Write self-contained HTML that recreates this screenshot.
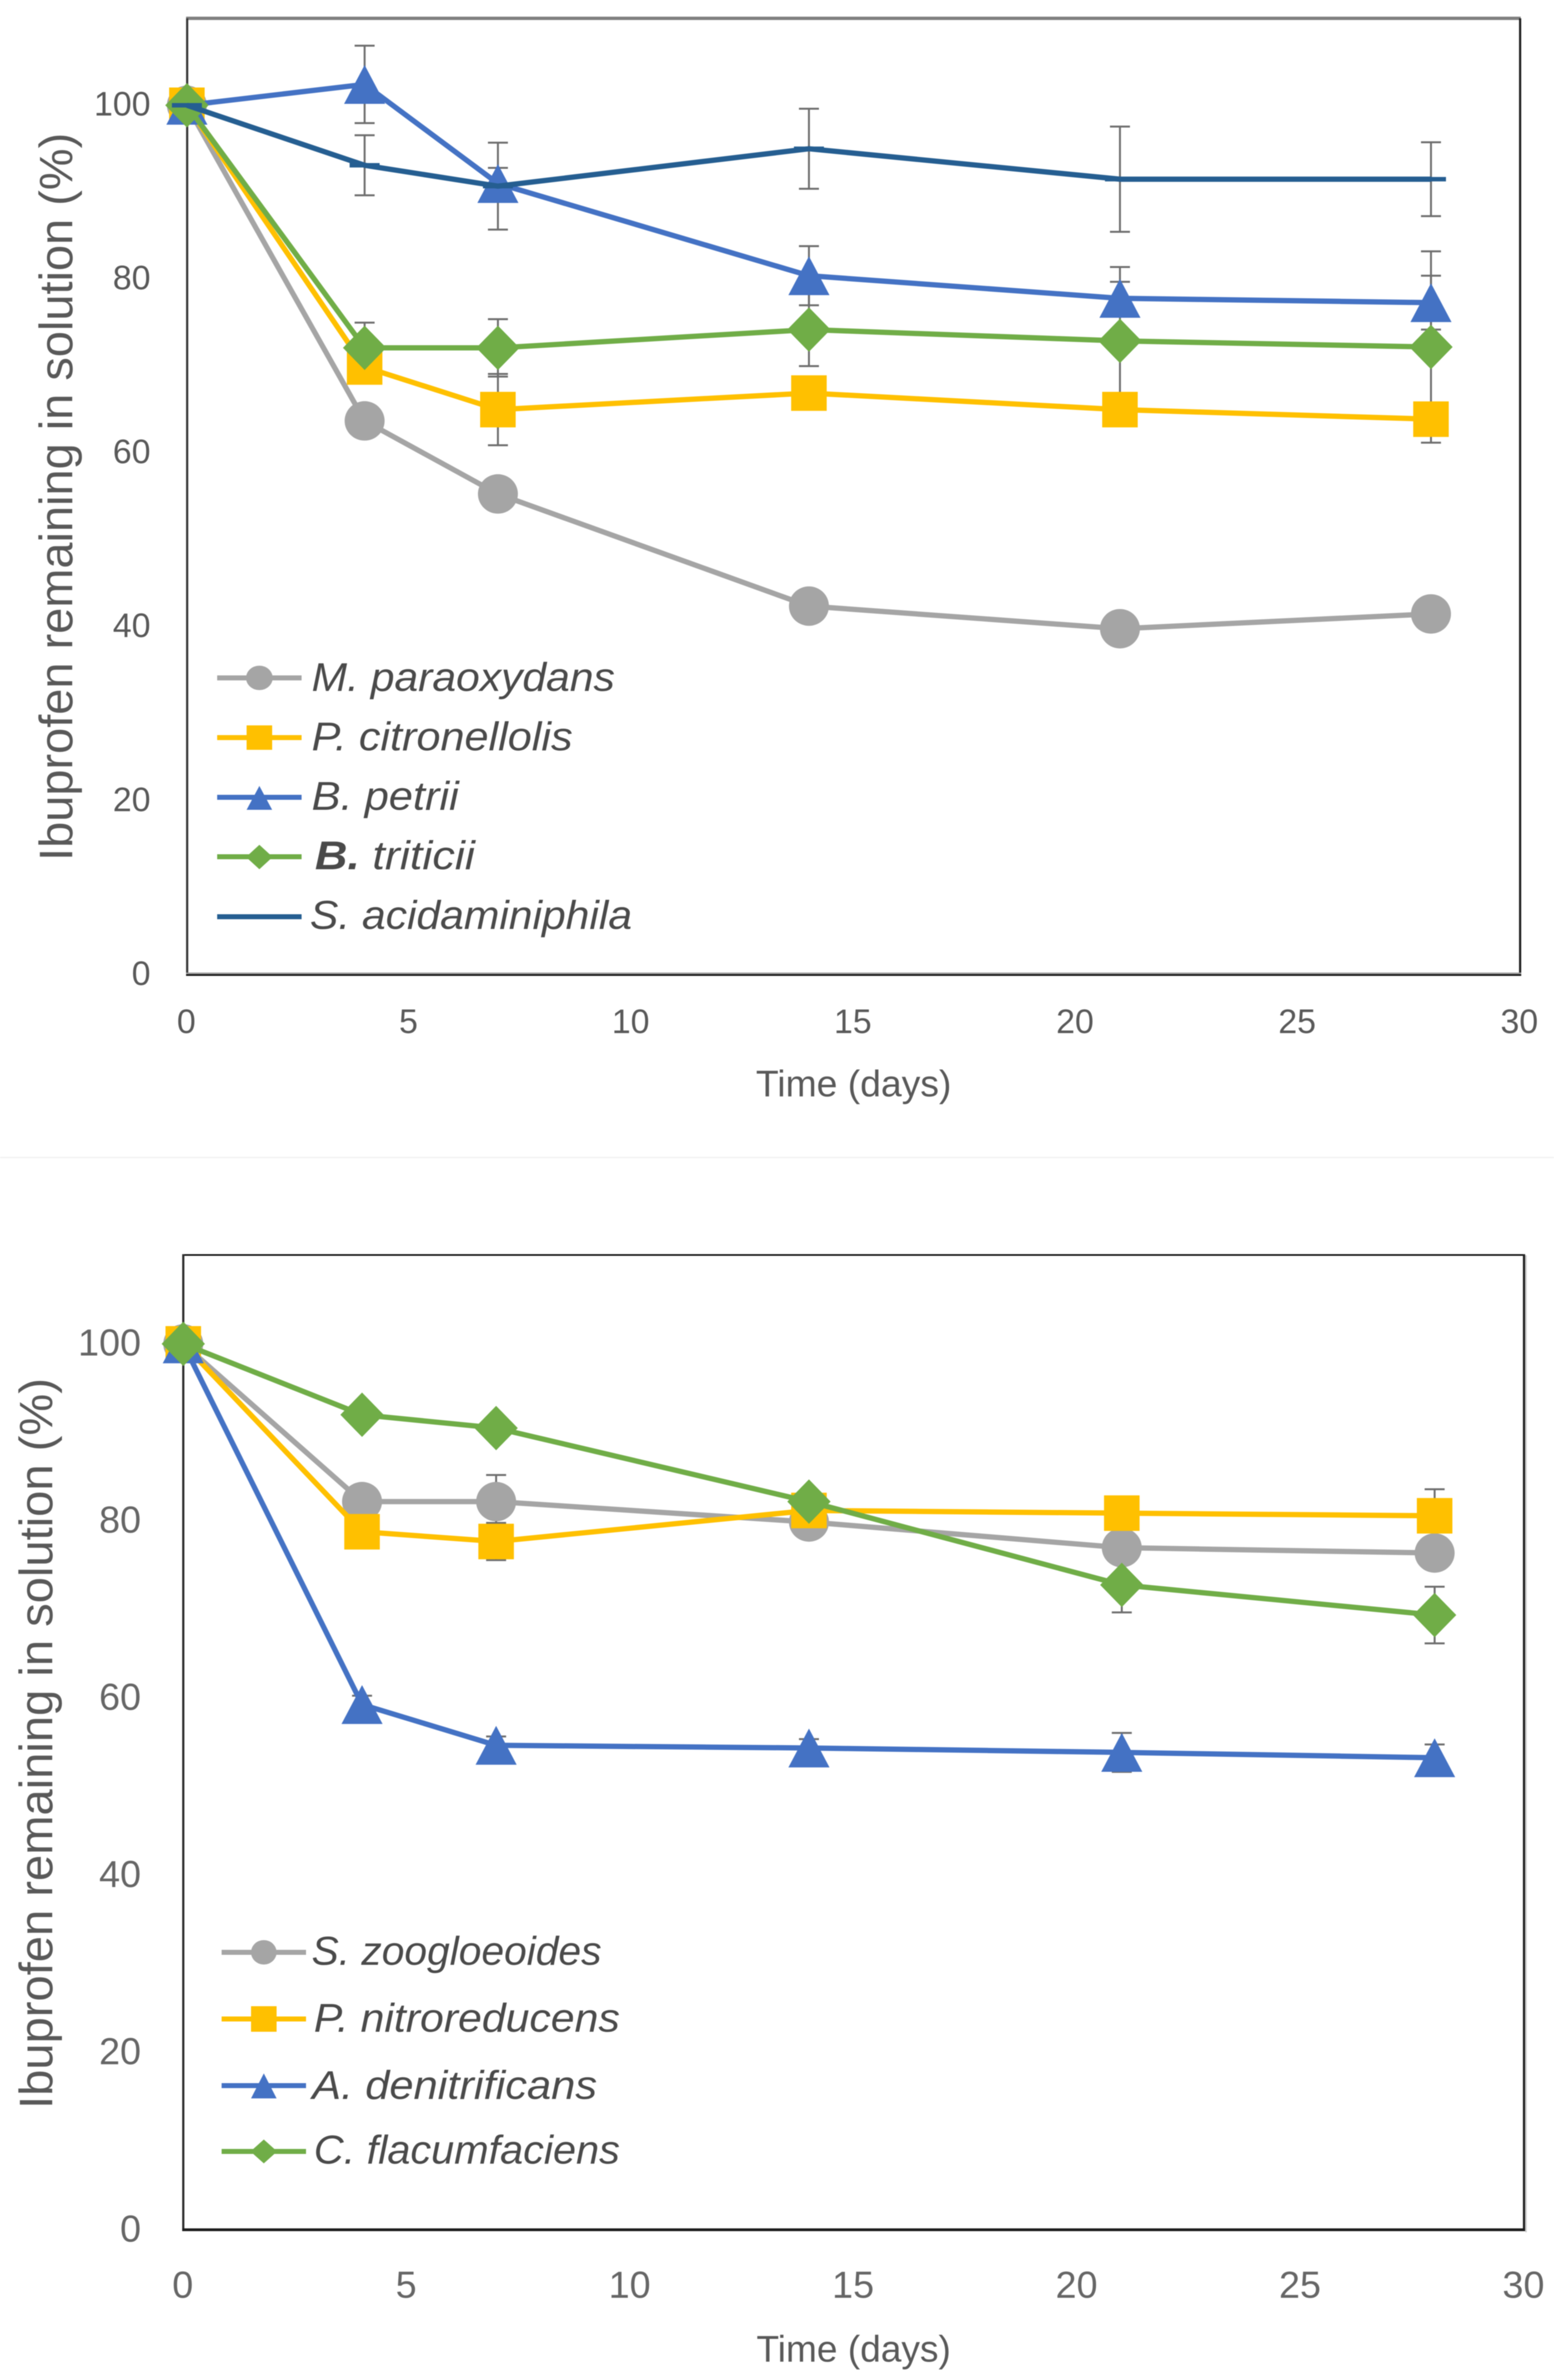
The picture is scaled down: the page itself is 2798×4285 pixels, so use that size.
<!DOCTYPE html>
<html lang="en">
<head>
<meta charset="utf-8">
<title>Ibuprofen remaining in solution over time</title>
<style>
  html, body { margin: 0; padding: 0; background: #ffffff; }
  svg { display: block; font-family: "Liberation Sans", sans-serif; filter: blur(0.8px); }
  .title { fill: #595959; }
  .legend-text { fill: #4a4a4a; font-style: italic; font-size: 72px; }
</style>
</head>
<body>
<svg id="figure" xmlns="http://www.w3.org/2000/svg" width="2798" height="4285" viewBox="0 0 2798 4285">
  <rect x="0" y="0" width="2798" height="4285" fill="#ffffff"/>
  <rect x="0" y="2083" width="2798" height="2" fill="#f0f0f0"/>

  <g id="chart-top">
    <g>
      <rect x="335" y="30" width="2403" height="6" fill="#808080"/>
      <rect x="335" y="33" width="4" height="1724" fill="#3a3a3a"/>
      <rect x="2735" y="33" width="4" height="1724" fill="#222222"/>
      <rect x="335" y="1751" width="2404" height="3" fill="#999999"/>
      <rect x="335" y="1754" width="2404" height="3" fill="#111111"/>
    </g>
    <text class="title" font-size="84" transform="translate(130 1550) rotate(-90)" textLength="1311" lengthAdjust="spacingAndGlyphs">Ibuprofen remaining in solution (%)</text>
    <text class="title" font-size="67" x="1361" y="1974" textLength="352" lengthAdjust="spacingAndGlyphs">Time (days)</text>
    <g>
      <g>
        <rect x="391" y="1216" width="152" height="9" fill="#a5a5a5"/>
        <ellipse cx="467" cy="1220.5" rx="24" ry="22" fill="#a5a5a5"/>
        <text class="legend-text" x="561" y="1244" textLength="546" lengthAdjust="spacingAndGlyphs">M. paraoxydans</text>
      </g>
      <g>
        <rect x="391" y="1323.5" width="152" height="9" fill="#ffc000"/>
        <rect x="444" y="1306" width="46" height="44" fill="#ffc000"/>
        <text class="legend-text" x="561" y="1351" textLength="470" lengthAdjust="spacingAndGlyphs">P. citronellolis</text>
      </g>
      <g>
        <rect x="391" y="1431" width="152" height="9" fill="#4472c4"/>
        <polygon points="467,1415 490,1458 444,1458" fill="#4472c4"/>
        <text class="legend-text" x="561" y="1458" textLength="265" lengthAdjust="spacingAndGlyphs">B. petrii</text>
      </g>
      <g>
        <rect x="391" y="1538" width="152" height="9" fill="#70ad47"/>
        <polygon points="467,1521 491,1543 467,1565 443,1543" fill="#70ad47"/>
        <text class="legend-text" x="567" y="1565" textLength="288" lengthAdjust="spacingAndGlyphs"><tspan font-weight="bold">B.</tspan> triticii</text>
      </g>
      <g>
        <rect x="391" y="1646" width="152" height="9" fill="#255e91"/>
        <text class="legend-text" x="558" y="1672.5" textLength="580" lengthAdjust="spacingAndGlyphs">S. acidaminiphila</text>
      </g>
    </g>
  </g>

  <g id="chart-bottom">
    <g>
      <rect x="329" y="2258" width="2417" height="3" fill="#111111"/>
      <rect x="328" y="2258" width="4" height="1759" fill="#2e2e2e"/>
      <rect x="2742" y="2258" width="4" height="1759" fill="#222222"/>
      <rect x="2746" y="2260" width="3" height="1759" fill="#cfcfcf"/>
      <rect x="328" y="4012" width="2418" height="5" fill="#1c1c1c"/>
    </g>
    <text class="title" font-size="84" transform="translate(94 3797) rotate(-90)" textLength="1316" lengthAdjust="spacingAndGlyphs">Ibuprofen remaining in solution (%)</text>
    <text class="title" font-size="67" x="1362" y="4252" textLength="350" lengthAdjust="spacingAndGlyphs">Time (days)</text>
    <g>
      <g>
        <rect x="399" y="3510.5" width="152" height="9" fill="#a5a5a5"/>
        <ellipse cx="475" cy="3515" rx="23" ry="22" fill="#a5a5a5"/>
        <text class="legend-text" x="561" y="3537.5" textLength="522" lengthAdjust="spacingAndGlyphs">S. zoogloeoides</text>
      </g>
      <g>
        <rect x="399" y="3630.5" width="152" height="9" fill="#ffc000"/>
        <rect x="452" y="3612" width="46" height="46" fill="#ffc000"/>
        <text class="legend-text" x="565" y="3658" textLength="551" lengthAdjust="spacingAndGlyphs">P. nitroreducens</text>
      </g>
      <g>
        <rect x="399" y="3750.5" width="152" height="9" fill="#4472c4"/>
        <polygon points="475,3733 498,3778 452,3778" fill="#4472c4"/>
        <text class="legend-text" x="562" y="3779" textLength="513" lengthAdjust="spacingAndGlyphs">A. denitrificans</text>
      </g>
      <g>
        <rect x="399" y="3869" width="152" height="9" fill="#70ad47"/>
        <polygon points="475,3852 499,3873.5 475,3895 451,3873.5" fill="#70ad47"/>
        <text class="legend-text" x="565" y="3895.5" textLength="551" lengthAdjust="spacingAndGlyphs">C. flacumfaciens</text>
      </g>
    </g>
  </g>
</svg>

<script>
// ---------- shared data ----------
const days = [0, 4, 7, 14, 21, 28];
const xTickLabels = [0, 5, 10, 15, 20, 25, 30];
const yTickLabels = [0, 20, 40, 60, 80, 100];

// ---------- top chart values ----------
const topGrayValues   = [100, 63.7, 55.3, 42.4, 39.8, 41.5];
const topOrangeValues = [100, 69.9, 65.0, 66.9, 65.0, 63.9];
const topBlueValues   = [100, 102.4, 91.0, 80.4, 77.8, 77.3];
const topGreenValues  = [100, 72.1, 72.1, 74.2, 72.9, 72.2];
const topDarkValues   = [100, 93.1, 90.7, 95.0, 91.5, 91.5];

const topGrayErrors   = [0, 1, 1, 1, 1, 1.5];
const topOrangeErrors = [0, 1.5, 4.1, 1.5, 1.5, 1.5];
const topBlueErrors   = [0, 4.45, 1.8, 3.4, 1.9, 3.1];
const topGreenErrors  = [0, 2.9, 3.3, 4.2, 8.5, 11];
const topDarkErrors   = [0, 3.45, 5.0, 4.6, 6.05, 4.25];

// ---------- bottom chart values ----------
const bottomGrayValues   = [100, 82.2, 82.2, 79.9, 77.0, 76.4];
const bottomOrangeValues = [100, 78.8, 77.7, 81.2, 80.9, 80.6];
const bottomBlueValues   = [100, 59.3, 54.7, 54.4, 53.9, 53.3];
const bottomGreenValues  = [100, 92.0, 90.5, 82.2, 72.8, 69.4];

const bottomGrayErrors   = [0, 1, 3.0, 1, 1, 1];
const bottomOrangeErrors = [0, 1, 2.1, 1, 1, 3.0];
const bottomBlueErrors   = [0, 1, 1, 1, 2.2, 1.5];
const bottomGreenErrors  = [0, 1, 1, 1, 3.1, 3.2];

// ---------- drawing ----------
const SVG_NS = 'http://www.w3.org/2000/svg';
const COLORS = { gray: '#a5a5a5', orange: '#ffc000', blue: '#4472c4', green: '#70ad47', dark: '#255e91' };

function make(tag, attrs, parent) {
  const node = document.createElementNS(SVG_NS, tag);
  for (const key in attrs) node.setAttribute(key, attrs[key]);
  parent.appendChild(node);
  return node;
}

function drawMarker(kind, px, py, color, parent) {
  let m = null;
  if (kind === 'circle') {
    m = make('ellipse', { cx: px, cy: py, rx: 36, ry: 35.5, fill: color }, parent);
  } else if (kind === 'square') {
    m = make('rect', { x: px - 32, y: py - 32, width: 64, height: 64, fill: color }, parent);
  } else if (kind === 'triangle') {
    m = make('polygon', { points: (px) + ',' + (py - 35) + ' ' + (px + 37) + ',' + (py + 35) + ' ' + (px - 37) + ',' + (py + 35), fill: color }, parent);
  } else if (kind === 'diamond') {
    m = make('polygon', { points: (px) + ',' + (py - 40) + ' ' + (px + 39) + ',' + (py) + ' ' + (px) + ',' + (py + 40) + ' ' + (px - 39) + ',' + (py), fill: color }, parent);
  } else {
    m = make('rect', { x: px - 27, y: py - 4, width: 54, height: 8, fill: color }, parent);
  }
  
  
}

function drawChart(rootId, geo, seriesList) {
  const root = document.getElementById(rootId);
  const xOf = function (d) { return geo.left + (d - 0) * (geo.right - geo.left) / 30; };
  const yOf = function (v) { return geo.bottom - v * (geo.bottom - geo.top) / 110; };

  // tick labels
  xTickLabels.forEach(function (t) {
    const label = make('text', { x: xOf(t) - 1, y: geo.xLabelY, 'font-size': geo.tickSize, 'text-anchor': 'middle', fill: geo.tickColor }, root);
    
    
    label.textContent = t;
  });
  yTickLabels.forEach(function (t) {
    const label = make('text', { x: geo.yLabelX, y: yOf(t) - 3 + geo.tickSize * 0.35, 'font-size': geo.tickSize, 'text-anchor': 'end', fill: geo.tickColor }, root);
    
    
    label.textContent = t;
  });

  // error bars sit beneath every line and marker
  const errorLayer = make('g', {}, root);
  
  
  seriesList.forEach(function (s) {
    days.forEach(function (d, i) {
      const err = s.errors[i];
      if (!err) return;
      const px = xOf(d);
      const hi = yOf(s.values[i] + err);
      const lo = yOf(s.values[i] - err);
      const bar = make('path', {
        d: 'M' + px + ' ' + hi + 'V' + lo + 'M' + (px - 18) + ' ' + hi + 'H' + (px + 18) + 'M' + (px - 18) + ' ' + lo + 'H' + (px + 18),
        stroke: '#6e6e6e', 'stroke-width': 3.5, fill: 'none'
      }, errorLayer);
      
      
    });
  });

  // series lines and markers
  seriesList.forEach(function (s) {
    const group = make('g', {}, root);
    
    
    const pts = days.map(function (d, i) { return xOf(d) + ',' + yOf(s.values[i]); }).join(' ');
    const line = make('polyline', { points: pts, fill: 'none', stroke: s.color, 'stroke-width': 9.5, 'stroke-linejoin': 'round' }, group);
    
    
    days.forEach(function (d, i) {
      drawMarker(s.marker, xOf(d), yOf(s.values[i]), s.color, group);
    });
  });
}

drawChart('chart-top',
  { left: 336.5, right: 2736.5, top: 33, bottom: 1755, xLabelY: 1860, yLabelX: 271, tickSize: 61, tickColor: '#595959' },
  [
    { name: 'series-m-paraoxydans',   color: COLORS.gray,   marker: 'circle',   values: topGrayValues,   errors: topGrayErrors },
    { name: 'series-p-citronellolis', color: COLORS.orange, marker: 'square',   values: topOrangeValues, errors: topOrangeErrors },
    { name: 'series-b-petrii',        color: COLORS.blue,   marker: 'triangle', values: topBlueValues,   errors: topBlueErrors },
    { name: 'series-b-triticii',      color: COLORS.green,  marker: 'diamond',  values: topGreenValues,  errors: topGreenErrors },
    { name: 'series-s-acidaminiphila',color: COLORS.dark,   marker: 'dash',     values: topDarkValues,   errors: topDarkErrors }
  ]);

drawChart('chart-bottom',
  { left: 330, right: 2744, top: 2260, bottom: 4015, xLabelY: 4137, yLabelX: 254, tickSize: 68, tickColor: '#666666' },
  [
    { name: 'series-s-zoogloeoides',  color: COLORS.gray,   marker: 'circle',   values: bottomGrayValues,   errors: bottomGrayErrors },
    { name: 'series-p-nitroreducens', color: COLORS.orange, marker: 'square',   values: bottomOrangeValues, errors: bottomOrangeErrors },
    { name: 'series-a-denitrificans', color: COLORS.blue,   marker: 'triangle', values: bottomBlueValues,   errors: bottomBlueErrors },
    { name: 'series-c-flacumfaciens', color: COLORS.green,  marker: 'diamond',  values: bottomGreenValues,  errors: bottomGreenErrors }
  ]);
</script>
</body>
</html>
